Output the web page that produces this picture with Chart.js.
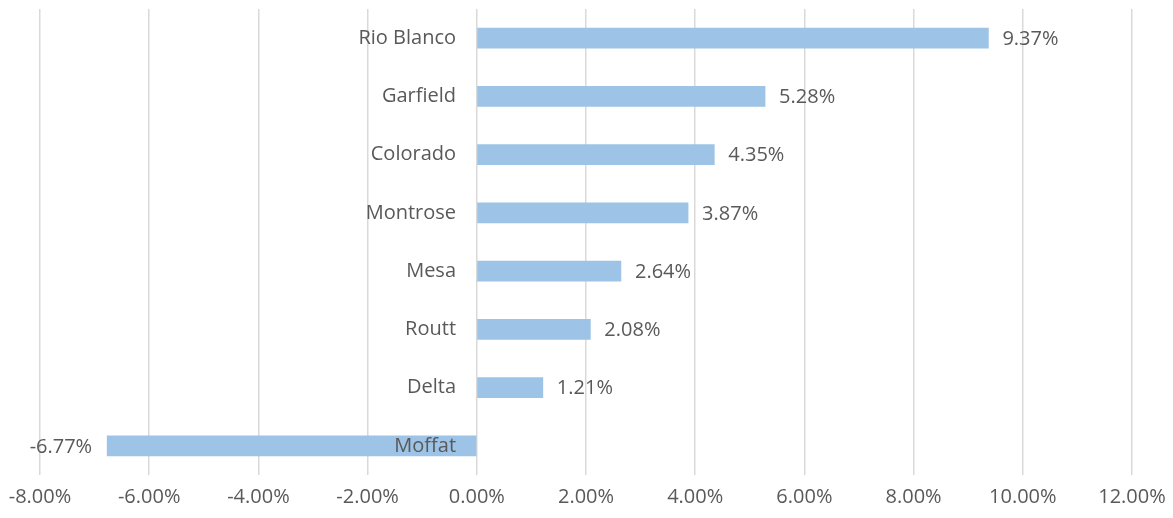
<!DOCTYPE html>
<html>
<head>
<meta charset="utf-8">
<script src="https://cdn.jsdelivr.net/npm/chart.js@4.4.1/dist/chart.umd.min.js"></script>
<style>
  html, body { margin: 0; padding: 0; background: #ffffff; }
  #wrap { width: 1173px; height: 518px; position: relative; }
</style>
</head>
<body>
<div id="wrap"><canvas id="c" width="1173" height="518"></canvas></div>
<script>
const categories = ["Rio Blanco", "Garfield", "Colorado", "Montrose", "Mesa", "Routt", "Delta", "Moffat"];
const values = [9.37, 5.28, 4.35, 3.87, 2.64, 2.08, 1.21, -6.77];
const xTickMin = -8;
const xTickMax = 12;
const xTickStep = 2;

const TEXT = '#595959';
const FONT = '"Open Sans", sans-serif';

const valueLabels = {
  id: 'valueLabels',
  afterDatasetsDraw(chart) {
    const ctx = chart.ctx;
    const meta = chart.getDatasetMeta(0);
    ctx.save();
    ctx.font = '20px ' + FONT;
    ctx.fillStyle = TEXT;
    ctx.textBaseline = 'middle';
    meta.data.forEach((el, i) => {
      const v = values[i];
      const txt = v.toFixed(2) + '%';
      if (v >= 0) {
        ctx.textAlign = 'left';
        ctx.fillText(txt, el.x + 14, el.y + 1);
      } else {
        ctx.textAlign = 'right';
        ctx.fillText(txt, el.x - 15, el.y + 1);
      }
    });
    ctx.restore();
  }
};

new Chart(document.getElementById('c'), {
  type: 'bar',
  data: {
    labels: categories,
    datasets: [{
      data: values,
      backgroundColor: '#9DC3E6',
      borderWidth: 0,
      barThickness: 20
    }]
  },
  options: {
    indexAxis: 'y',
    responsive: false,
    animation: false,
    layout: { padding: { left: 40, right: 41, top: 9, bottom: 9 } },
    plugins: { legend: { display: false }, tooltip: { enabled: false } },
    scales: {
      x: {
        min: xTickMin,
        max: xTickMax,
        afterFit(scale) {
          scale.paddingLeft = 0;
          scale.paddingRight = 0;
          scale.paddingTop = 0;
          scale.paddingBottom = 0;
          scale.height = 34;
        },
        ticks: {
          stepSize: xTickStep,
          color: TEXT,
          font: { family: FONT, size: 20 },
          padding: 10,
          callback: (v) => Number(v).toFixed(2) + '%'
        },
        grid: { color: '#d9d9d9', lineWidth: 1.5, drawTicks: false, tickLength: 0 },
        border: { display: false }
      },
      y: {
        position: { x: 0 },
        afterFit(scale) {
          scale.paddingTop = 0;
          scale.paddingBottom = 0;
        },
        grid: { display: false, drawTicks: false, tickLength: 0 },
        border: { display: false },
        ticks: {
          z: 1,
          color: TEXT,
          font: { family: FONT, size: 20, lineHeight: 0.8 },
          padding: 0,
          callback: function (v) { return this.getLabelForValue(v) + '    '; }
        }
      }
    }
  },
  plugins: [valueLabels]
});
</script>
</body>
</html>
